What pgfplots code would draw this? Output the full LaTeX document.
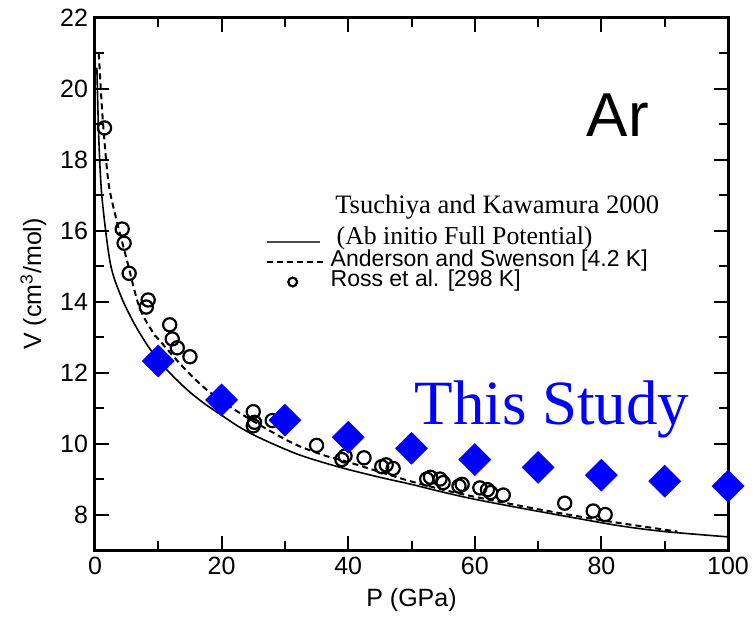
\documentclass[border=0pt]{standalone}
\usepackage{fontspec}
\setmainfont{Liberation Sans}
\newfontfamily\timesfont{Liberation Serif}
\usepackage{pgfplots}
\pgfplotsset{compat=1.18}
\definecolor{studyblue}{RGB}{0,0,255}
\pgfplotsset{
  legsolid/.style={legend image code/.code={\draw[##1, black!70] (0pt,0pt) -- (26.5pt,0pt);}},
  legdash/.style={legend image code/.code={\draw[##1] (0pt,0pt) -- (28pt,0pt);}},
  legcirc/.style={legend image code/.code={\draw[##1, mark size=2.2pt] plot coordinates {(13pt,0pt)};}},
}
\begin{document}
\begin{tikzpicture}
\begin{axis}[
  name=ax, scale only axis, width=316.5pt, height=266pt,
  xmin=0, xmax=100, ymin=7, ymax=22,
  xtick={0,20,...,100}, ytick={8,10,...,22},
  minor x tick num=1, minor y tick num=1,
  tick align=inside, xtick pos=both, ytick pos=both,
  major tick length=7pt, minor tick length=4.5pt,
  every tick/.style={black, line width=1pt},
  axis line style={line width=1.5pt},
  tick label style={font=\fontsize{12.5}{14}\selectfont},
  /pgf/number format/assume math mode=true,
  xlabel={P (GPa)}, ylabel={V (cm\textsuperscript{3}/mol)},
  label style={font=\fontsize{12.5}{15}\selectfont},
  legend cell align=left,
  legend style={at={(axis cs:26.9,15.12)}, anchor=west, draw=none, fill=none,
    inner sep=0pt, row sep=0pt, column sep=3.5pt,
    font=\fontsize{11.5}{13}\selectfont,
    nodes={inner sep=0pt, text height=7pt, text depth=3pt}},
]
\addplot[black, line width=0.8pt, smooth, legsolid]
coordinates {
(0.3,20.6) (0.6,18.6) (1.1,16.95) (2.4,15.1) (4,14.2) (6,13.45) (8,12.85)
(10,12.35) (12.5,11.87) (15,11.45) (17.5,11.1) (20,10.8) (22.5,10.5)
(25,10.25) (28,10.0) (32,9.7) (36,9.47) (40,9.27) (45,9.05) (50,8.85)
(55,8.63) (60,8.43) (67,8.19) (75,7.93) (83,7.68) (90,7.52) (100,7.37)};
\addlegendentry{\timesfont\fontsize{12.9}{15}\selectfont\hspace{3pt}\raisebox{1pt}{(Ab initio Full Potential)}}
\addplot[black, line width=1pt, dash pattern=on 3pt off 2pt, smooth, legdash]
coordinates {
(0.6,21.0) (1.2,19.2) (2.1,17.4) (3.2,16.45) (5,15.2) (7,13.85) (9.2,13.12)
(10,12.95) (13.9,12.16) (17.7,11.51) (22.9,10.86) (30.8,10.05) (36,9.68)
(40,9.48) (45,9.2) (50,8.93) (55,8.7) (60,8.5) (70,8.15) (80,7.84) (92,7.52)};
\addlegendentry{Anderson and Swenson [4.2 K]}
\addplot[only marks, mark=o, mark size=3.3pt, line width=1.1pt, black, legcirc]
coordinates {
(1.5,18.9) (4.3,16.05) (4.6,15.65) (5.4,14.8) (8.1,13.85) (8.4,14.05)
(11.8,13.35) (12.2,12.95) (13,12.7) (15,12.45) (25,10.9) (25.2,10.6)
(25,10.5) (28,10.65) (35,9.95) (39,9.55) (39.5,9.65) (42.5,9.6) (45.3,9.35)
(46,9.4) (47.1,9.3) (52.4,9.0) (53,9.05) (54.5,9.0) (55,8.9) (57.5,8.8)
(58,8.85) (60.8,8.75) (62,8.7) (62.5,8.62) (64.5,8.55) (74.2,8.32)
(78.7,8.1) (80.6,8.0)};
\addlegendentry{Ross et al. [298 K]}
\addplot[only marks, mark=square*, mark size=5.6pt, studyblue,
  mark options={rotate=45, draw=studyblue, fill=studyblue}, forget plot]
coordinates {
(10,12.33) (20,11.23) (30,10.66) (40,10.18) (50,9.87) (60,9.55) (70,9.33)
(80,9.11) (90,8.94) (100,8.8)};
\node[anchor=base west, inner sep=0pt, font=\timesfont\fontsize{13.3}{15}\selectfont]
  at (axis cs:37.9,16.5) {Tsuchiya and Kawamura 2000};
\node[inner sep=0pt, font=\fontsize{31}{36}\selectfont] at (axis cs:82.6,19.27) {Ar};
\node[anchor=base, inner sep=0pt, text=studyblue, font=\timesfont\fontsize{31.5}{36}\selectfont]
  at (axis cs:72.2,10.53) {This Study};
\end{axis}
\pgfresetboundingbox
\path[use as bounding box] ([shift={(-47.5pt,-35.5pt)}]ax.south west) rectangle ([shift={(13.5pt,9pt)}]ax.north east);
\end{tikzpicture}
\end{document}
